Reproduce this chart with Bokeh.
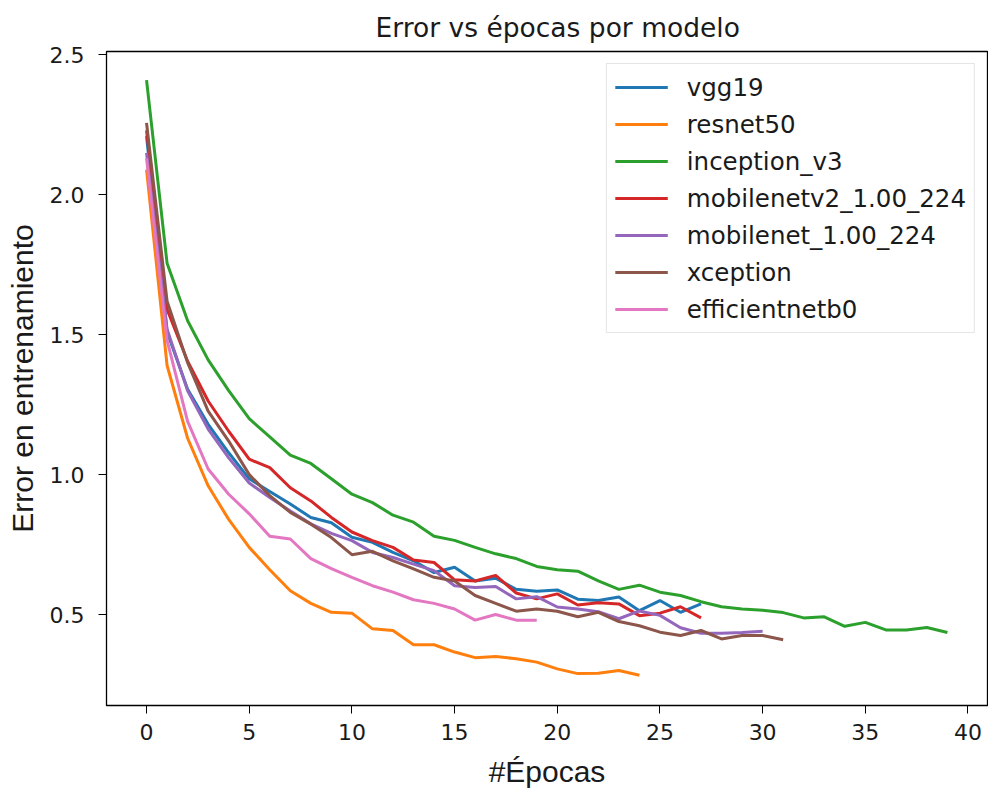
from bokeh.plotting import figure
from bokeh.models import FixedTicker, PrintfTickFormatter, Range1d
from bokeh.embed import file_html
from bokeh.resources import INLINE

model_names = ["vgg19", "resnet50", "inception_v3", "mobilenetv2_1.00_224",
               "mobilenet_1.00_224", "xception", "efficientnetb0"]
model_colors = ["#1f77b4", "#ff7f0e", "#2ca02c", "#d62728", "#9467bd", "#8c564b", "#e377c2"]

vgg19 = [2.21, 1.51, 1.305, 1.18, 1.078, 0.985, 0.94, 0.895, 0.847, 0.828, 0.776, 0.758,
         0.722, 0.692, 0.65, 0.669, 0.62, 0.63, 0.59, 0.583, 0.588, 0.555, 0.55, 0.563,
         0.514, 0.55, 0.508, 0.538]
resnet50 = [2.09, 1.39, 1.13, 0.96, 0.84, 0.74, 0.66, 0.585, 0.54, 0.508, 0.505, 0.449,
            0.443, 0.392, 0.392, 0.366, 0.346, 0.35, 0.342, 0.33, 0.306, 0.289, 0.29,
            0.30, 0.283]
inception_v3 = [2.41, 1.755, 1.55, 1.41, 1.30, 1.20, 1.135, 1.07, 1.04, 0.985, 0.93, 0.90,
                0.855, 0.83, 0.78, 0.765, 0.74, 0.717, 0.70, 0.672, 0.66, 0.655, 0.62,
                0.59, 0.605, 0.58, 0.568, 0.546, 0.528, 0.52, 0.515, 0.507, 0.488, 0.492,
                0.458, 0.472, 0.445, 0.445, 0.454, 0.436]
mobilenetv2 = [2.23, 1.59, 1.405, 1.263, 1.155, 1.055, 1.025, 0.953, 0.906, 0.847, 0.795,
               0.764, 0.74, 0.695, 0.686, 0.624, 0.62, 0.64, 0.577, 0.556, 0.574, 0.534,
               0.542, 0.538, 0.496, 0.505, 0.528, 0.488]
mobilenet = [2.15, 1.52, 1.30, 1.163, 1.06, 0.97, 0.918, 0.87, 0.824, 0.79, 0.764, 0.722,
             0.704, 0.68, 0.657, 0.603, 0.597, 0.60, 0.556, 0.564, 0.527, 0.52, 0.51,
             0.485, 0.513, 0.497, 0.453, 0.433, 0.433, 0.436, 0.44]
xception = [2.257, 1.62, 1.40, 1.227, 1.12, 1.00, 0.925, 0.865, 0.823, 0.775, 0.714, 0.726,
            0.692, 0.663, 0.633, 0.62, 0.568, 0.54, 0.512, 0.52, 0.512, 0.492, 0.508,
            0.475, 0.46, 0.437, 0.425, 0.443, 0.413, 0.425, 0.425, 0.41]
efficientnetb0 = [2.13, 1.48, 1.19, 1.02, 0.93, 0.86, 0.78, 0.77, 0.70, 0.664, 0.633, 0.603,
                  0.58, 0.553, 0.54, 0.52, 0.48, 0.50, 0.48, 0.48]

series_values = [vgg19, resnet50, inception_v3, mobilenetv2, mobilenet, xception, efficientnetb0]

x_ticks = [0, 5, 10, 15, 20, 25, 30, 35, 40]
y_ticks = [0.5, 1.0, 1.5, 2.0, 2.5]

p = figure(width=988, height=793, output_backend="svg", toolbar_location=None,
           x_range=Range1d(-1.95, 40.95), y_range=Range1d(0.175, 2.512),
           min_border_left=106, min_border_right=1, min_border_top=51, min_border_bottom=88,
           title="Error vs épocas por modelo")

for name, vals, col in zip(model_names, series_values, model_colors):
    p.line(list(range(len(vals))), vals, line_width=3, color=col, legend_label=name)

p.title.align = "left"
p.title.offset = 269
p.title.text_font = "DejaVu Sans"
p.title.text_font_size = "26.5px"
p.title.text_font_style = "normal"
p.title.text_color = "#1a1a1a"
p.title.standoff = 18

p.xgrid.grid_line_color = None
p.ygrid.grid_line_color = None
p.outline_line_color = "black"
p.outline_line_width = 1.3
p.outline_line_alpha = 1

for ax in (p.xaxis[0], p.yaxis[0]):
    ax.major_tick_in = 0
    ax.major_tick_out = 8
    ax.minor_tick_in = 0
    ax.minor_tick_out = 0
    ax.major_tick_line_color = "black"
    ax.axis_line_color = "black"
    ax.major_label_text_font = "DejaVu Sans"
    ax.major_label_text_font_size = "22px"
    ax.major_label_text_color = "#1a1a1a"
    ax.axis_label_text_font = "Liberation Sans"
    ax.axis_label_text_font_size = "30px"
    ax.axis_label_text_font_style = "normal"
    ax.axis_label_text_color = "#1a1a1a"

p.xaxis[0].ticker = FixedTicker(ticks=x_ticks)
p.yaxis[0].ticker = FixedTicker(ticks=y_ticks)
p.yaxis[0].formatter = PrintfTickFormatter(format="%.1f")
p.xaxis[0].axis_label = "#Épocas"
p.yaxis[0].axis_label = "Error en entrenamiento"
p.xaxis[0].major_label_standoff = 10
p.yaxis[0].major_label_standoff = 14
p.xaxis[0].axis_label_standoff = 12
p.yaxis[0].axis_label_standoff = 8

lg = p.legend[0]
lg.location = "top_right"
lg.margin = 12
lg.label_text_font = "DejaVu Sans"
lg.label_text_font_size = "24.5px"
lg.label_text_color = "#1a1a1a"
lg.glyph_width = 53
lg.glyph_height = 30
lg.label_height = 30
lg.spacing = 7
lg.padding = 8
lg.label_standoff = 19
lg.border_line_color = "#cccccc"
lg.border_line_width = 1.3
lg.background_fill_alpha = 0.8

open("out.html", "w").write(file_html(p, INLINE))
